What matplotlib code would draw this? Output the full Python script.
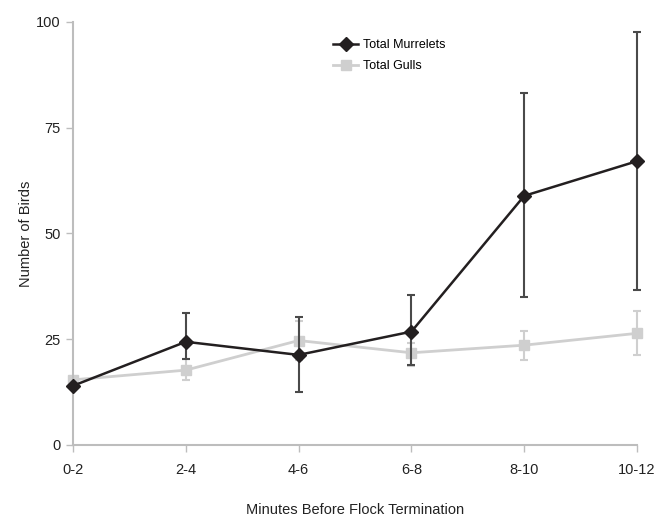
import matplotlib
matplotlib.use("Agg")
import matplotlib.pyplot as plt
from matplotlib.lines import Line2D
import numpy as np

categories = ["0-2", "2-4", "4-6", "6-8", "8-10", "10-12"]
murrelets = [14.0, 24.4, 21.3, 26.8, 58.9, 67.1]
murrelets_upper = [14.0, 31.1, 30.3, 35.5, 83.1, 97.6]
murrelets_lower = [14.0, 20.3, 12.5, 19.0, 34.9, 36.6]
gulls = [15.4, 17.7, 24.7, 21.8, 23.6, 26.4]
gulls_upper = [15.4, 20.3, 29.2, 24.2, 27.0, 31.7]
gulls_lower = [15.4, 15.4, 20.2, 18.7, 20.1, 21.3]
yticks = [0, 25, 50, 75, 100]

plt.rcParams['font.family'] = ['Liberation Sans', 'DejaVu Sans']

fig = plt.figure(figsize=(6.67, 5.19), dpi=100)
W, H = 667, 519
ax = fig.add_axes([73 / W, 1 - 445 / H, (637 - 73) / W, (445 - 22) / H])

x = np.arange(len(categories))
m = np.array(murrelets); g = np.array(gulls)
m_err = [m - np.array(murrelets_lower), np.array(murrelets_upper) - m]
g_err = [g - np.array(gulls_lower), np.array(gulls_upper) - g]

gcol = "#cfcfcf"
mcol = "#231f20"

eb_g = ax.errorbar(x, g, yerr=g_err, color=gcol, ecolor=gcol, elinewidth=1.5,
                   capsize=3, capthick=1.5, lw=2, marker='s', ms=7,
                   zorder=2, clip_on=False)
eb_m = ax.errorbar(x, m, yerr=m_err, color=mcol, ecolor="#4a4a4a", elinewidth=1.5,
                   capsize=3, capthick=1.5, lw=1.8, marker='D', ms=7,
                   zorder=3, clip_on=False)
for eb in (eb_g, eb_m):
    for art in eb.lines[1] + eb.lines[2]:
        art.set_clip_on(False)
    eb.lines[0].set_clip_on(False)

ax.set_xlim(0, len(categories) - 1)
ax.set_ylim(0, 100)
ax.set_xticks(x)
ax.set_xticklabels(categories)
ax.set_yticks(yticks)
for s in ("top", "right"):
    ax.spines[s].set_visible(False)
for s in ("left", "bottom"):
    ax.spines[s].set_color("#bdbdbd")
    ax.spines[s].set_linewidth(1.5)
ax.tick_params(axis='both', colors="#bdbdbd", labelcolor="#222222",
               labelsize=10.5, length=5, width=1)
ax.tick_params(axis='x', pad=8)
ax.tick_params(axis='y', pad=4)

ax.set_xlabel("Minutes Before Flock Termination", fontsize=10.5, color="#222222", labelpad=19)
ax.set_ylabel("Number of Birds", fontsize=10.5, color="#222222", labelpad=2)

handles = [
    Line2D([], [], color=mcol, lw=1.8, marker='D', ms=7),
    Line2D([], [], color=gcol, lw=2, marker='s', ms=7),
]
labels = ["Total Murrelets", "Total Gulls"]
fig.legend(handles, labels, loc='upper left',
           bbox_to_anchor=(322 / W, 1 - 28 / H), frameon=False,
           fontsize=9, handlelength=2, handletextpad=0.4, labelspacing=0.7)

fig.savefig("out.png", dpi=100)
